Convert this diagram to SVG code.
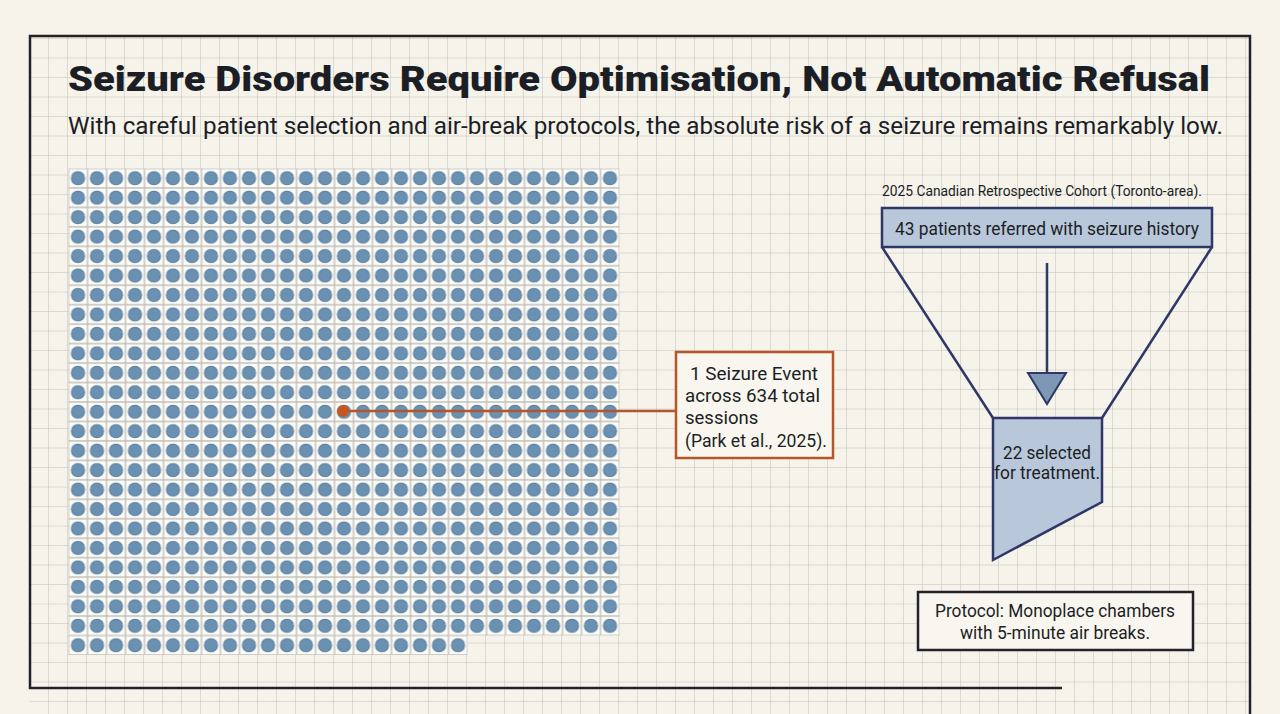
<svg xmlns="http://www.w3.org/2000/svg" width="1280" height="714" viewBox="0 0 1280 714">
<defs>
<pattern id="grid" x="11" y="0" width="19" height="19.5" patternUnits="userSpaceOnUse">
<path d="M19 0V19.5M0 19.5H19" fill="none" stroke="#c2bfb7" stroke-width="1"/>
</pattern>
<pattern id="dots" x="68.5" y="168.5" width="19" height="19.46" patternUnits="userSpaceOnUse">
<rect x="0" y="0" width="19" height="19.46" fill="#c2bfb7"/>
<rect x="0.7" y="0.7" width="17.6" height="18" fill="#fbfbf8"/>
<circle cx="9.5" cy="9.7" r="6.6" fill="#6a90b2" stroke="#557b9e" stroke-width="1"/>
</pattern>
</defs>
<style>
text{font-family:Roboto,"Liberation Sans",sans-serif;fill:#1c1e26}
.nv{fill:#b8c8da;stroke:#2e3766;stroke-width:2.5}
.ln{fill:none;stroke:#2e3766;stroke-width:2.5}
</style>
<rect width="1280" height="714" fill="#f5f3ea"/>
<rect x="30" y="36" width="1220" height="678" fill="url(#grid)"/>
<g id="frame" fill="none" stroke="#22232a" stroke-width="2.5">
<path d="M1062 688H30V36H1250V714"/>
</g>
<text x="68" y="91" font-size="35" font-weight="900" textLength="1142" lengthAdjust="spacingAndGlyphs">Seizure Disorders Require Optimisation, Not Automatic Refusal</text>
<text x="68" y="134" font-size="24" textLength="1155" lengthAdjust="spacingAndGlyphs">With careful patient selection and air-break protocols, the absolute risk of a seizure remains remarkably low.</text>
<g id="dots-grid">
<rect x="68.5" y="168.5" width="551" height="467" fill="url(#dots)"/>
<rect x="68.5" y="635.5" width="399" height="19.46" fill="url(#dots)"/>
</g>
<g id="connectors">
<line x1="343" y1="411" x2="676" y2="411" stroke="#b5562a" stroke-width="2.5"/>
<circle cx="343" cy="411" r="6" fill="#c5561f"/>
<line class="ln" x1="882" y1="247" x2="993" y2="418"/>
<line class="ln" x1="1212" y1="247" x2="1102" y2="418"/>
<line class="ln" x1="1047" y1="263" x2="1047" y2="374"/>
<polygon points="1028,373 1066,373 1047,404" fill="#7d97b5" stroke="#2e3766" stroke-width="2"/>
</g>
<g id="callout">
<rect x="676" y="352" width="157" height="106" fill="#f8f6ee" stroke="#b5562a" stroke-width="2.5"/>
<text font-size="18.5"><tspan x="690" y="380" textLength="128" lengthAdjust="spacingAndGlyphs">1 Seizure Event</tspan><tspan x="685" y="402" textLength="135" lengthAdjust="spacingAndGlyphs">across 634 total</tspan><tspan x="685" y="424">sessions</tspan><tspan x="685" y="447" textLength="142" lengthAdjust="spacingAndGlyphs">(Park et al., 2025).</tspan></text>
</g>
<g id="caption"><text x="1042" y="196" font-size="14" text-anchor="middle" textLength="320" lengthAdjust="spacingAndGlyphs">2025 Canadian Retrospective Cohort (Toronto-area).</text></g>
<g id="referred">
<rect class="nv" x="882" y="208" width="330" height="39"/>
<text x="1047" y="235" font-size="19" text-anchor="middle" textLength="304" lengthAdjust="spacingAndGlyphs">43 patients referred with seizure history</text>
</g>
<g id="selected">
<polygon class="nv" points="993,418 1102,418 1102,502 993,560"/>
<text x="1047" y="459" font-size="18" text-anchor="middle" textLength="88" lengthAdjust="spacingAndGlyphs">22 selected</text>
<text x="1047" y="479" font-size="18" text-anchor="middle" textLength="106" lengthAdjust="spacingAndGlyphs">for treatment.</text>
</g>
<g id="protocol">
<rect x="918" y="592" width="275" height="58" fill="#f8f6ee" stroke="#22232a" stroke-width="2.5"/>
<text x="1055" y="617" font-size="18" text-anchor="middle" textLength="240" lengthAdjust="spacingAndGlyphs">Protocol: Monoplace chambers</text>
<text x="1055" y="639" font-size="18" text-anchor="middle" textLength="190" lengthAdjust="spacingAndGlyphs">with 5-minute air breaks.</text>
</g>
</svg>
